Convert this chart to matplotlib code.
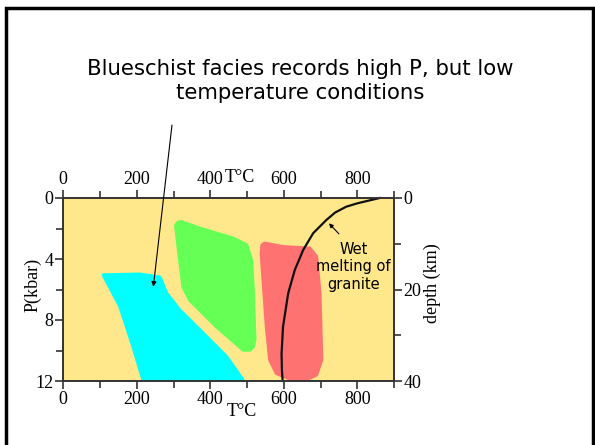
import matplotlib
matplotlib.use("Agg")
import matplotlib.pyplot as plt
from matplotlib.patches import Polygon, Rectangle
from matplotlib.ticker import MultipleLocator

# ---- data (T in °C, P in kbar) ----
blueschist_T = [109, 208, 263, 281, 317, 372, 444, 485, 490, 218, 190, 154]
blueschist_P = [5.05, 5.0, 5.2, 6.25, 7.35, 8.66, 10.4, 11.8, 12.0, 12.0, 9.75, 7.1]

greenschist_T = [306, 312, 321, 372, 462, 499, 512, 517, 521, 516, 508, 490, 417, 344, 326, 317]
greenschist_P = [1.8, 1.6, 1.56, 1.99, 2.64, 3.08, 4.07, 6.25, 9.3, 9.8, 9.97, 9.97, 8.44, 6.69, 5.82, 4.07]

amphibolite_T = [548, 598, 671, 689, 698, 703, 689, 662, 620, 580, 562, 553, 539, 541]
amphibolite_P = [2.97, 3.2, 3.3, 3.85, 6.25, 10.6, 11.6, 11.9, 11.9, 11.5, 10.6, 8.44, 3.63, 3.1]

solidus_T = [861, 800, 770, 740, 716, 680, 653, 630, 612, 598, 594, 595, 597]
solidus_P = [0.0, 0.35, 0.57, 0.95, 1.44, 2.31, 3.4, 4.72, 6.25, 8.44, 10.2, 11.3, 12.0]

x_ticks = [0, 200, 400, 600, 800]
p_ticks = [0, 4, 8, 12]
depth_ticks = [0, 20, 40]

title = "Blueschist facies records high P, but low\ntemperature conditions"

fig = plt.figure(figsize=(5.95, 4.45), dpi=100)
W, H = 595, 445

# slide border
fig.add_artist(Rectangle((6 / W, -0.05), (593 - 6) / W, 1.05 - 8 / H,
                         transform=fig.transFigure, fill=False,
                         edgecolor="black", lw=2.5))

fig.text(0.505, 1 - 81 / H, title, ha="center", va="center",
         fontsize=15.3, family="DejaVu Sans", linespacing=1.3)

ax = fig.add_axes([63.3 / W, 1 - 381 / H, (394 - 63.3) / W, (381 - 198) / H])
ax.set_facecolor("#FFE88C")
ax.set_xlim(0, 900)
ax.set_ylim(12, 0)

serif = "Liberation Serif"
frame_c = "#333333"
for s in ax.spines.values():
    s.set_color(frame_c)
    s.set_linewidth(1.4)

for Ts, Ps, col in [(blueschist_T, blueschist_P, "#00FFFF"),
                    (greenschist_T, greenschist_P, "#66FF55"),
                    (amphibolite_T, amphibolite_P, "#FF7272")]:
    ax.add_patch(Polygon(list(zip(Ts, Ps)), closed=True, facecolor=col,
                         edgecolor=col, lw=2.5, joinstyle="round"))
ax.plot(solidus_T, solidus_P, color="#111111", lw=1.6, clip_on=False)

ax.set_xticks(x_ticks)
ax.xaxis.set_minor_locator(MultipleLocator(100))
ax.set_yticks(p_ticks)
ax.yaxis.set_minor_locator(MultipleLocator(2))
ax.tick_params(which="both", direction="out", length=6, width=1.2, color=frame_c,
               top=True, labeltop=True, labelsize=13, pad=1)
ax.tick_params(which="minor", length=5)
for lab in ax.get_xticklabels() + ax.get_yticklabels():
    lab.set_family(serif)

fig.text(240 / W, 1 - 177 / H, "T°C", ha="center", va="center",
         fontsize=13, family=serif)
fig.text(242 / W, 1 - 412 / H, "T°C", ha="center", va="center",
         fontsize=13, family=serif)
fig.text(33 / W, 1 - 285 / H, "P(kbar)", ha="center", va="center",
         rotation=90, fontsize=13, family=serif)

ax2 = ax.twinx()
ax2.set_ylim(40, 0)
ax2.set_yticks(depth_ticks)
ax2.yaxis.set_minor_locator(MultipleLocator(10))
ax2.tick_params(which="both", direction="out", length=6, width=1.2, color=frame_c,
                labelsize=13, pad=1)
ax2.tick_params(which="minor", length=5)
for lab in ax2.get_yticklabels():
    lab.set_family(serif)
for s in ax2.spines.values():
    s.set_visible(False)
fig.text(432 / W, 1 - 283 / H, "depth (km)", ha="center", va="center",
         rotation=90, fontsize=13, family=serif)

# annotations
ax.text(789, 4.5, "Wet\nmelting of\ngranite", ha="center", va="center",
        fontsize=10.5, family="DejaVu Sans", linespacing=1.2)
ax.annotate("", xy=(723, 1.66), xytext=(750, 2.35),
            arrowprops=dict(arrowstyle="-|>", color="black", lw=0.8,
                            mutation_scale=6, shrinkA=0, shrinkB=0))
ax.annotate("", xy=(245, 5.82), xytext=(172 / W, 1 - 125 / H),
            textcoords="figure fraction",
            arrowprops=dict(arrowstyle="-|>", color="black", lw=0.8,
                            mutation_scale=7, shrinkA=0, shrinkB=0))

fig.savefig("out.png", dpi=100)
